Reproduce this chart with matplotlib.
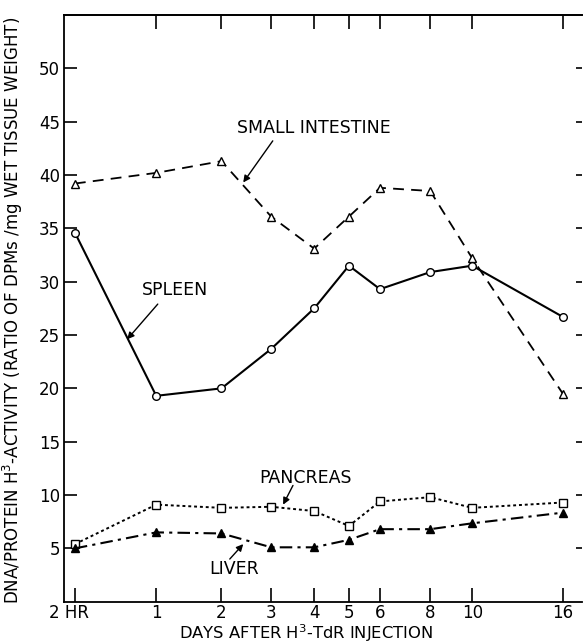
import numpy as np
import matplotlib
matplotlib.use('Agg')
import matplotlib.pyplot as plt
import matplotlib.transforms as mtransforms

# days after injection (2 HR = 1/12 day)
days = [1/12, 1, 2, 3, 4, 5, 6, 8, 10, 16]
day_labels = ['2 HR', '1', '2', '3', '4', '5', '6', '8', '10', '16']

small_intestine = [39.2, 40.2, 41.3, 36.1, 33.1, 36.1, 38.8, 38.5, 32.2, 19.5]
spleen = [34.6, 19.3, 20.0, 23.7, 27.5, 31.5, 29.3, 30.9, 31.5, 26.7]
pancreas = [5.4, 9.1, 8.8, 8.9, 8.5, 7.1, 9.4, 9.8, 8.8, 9.3]
liver = [5.0, 6.5, 6.4, 5.1, 5.1, 5.8, 6.8, 6.8, 7.35, 8.35]

# hand drawn day axis: where each tick sits along the axis (0..1)
tick_pos = [0.021, 0.178, 0.304, 0.400, 0.483, 0.550, 0.610, 0.707, 0.788, 0.963]

def day_to_x(d):
    return np.interp(np.log(d), np.log(days), tick_pos)

x = day_to_x(days)

plt.rcParams['font.family'] = 'DejaVu Sans'
fig = plt.figure(figsize=(5.83, 6.43), dpi=100)
ax = fig.add_axes([0.1098, 0.0642, 0.8885, 0.9125])

k = 'black'
ax.plot(x, small_intestine, color=k, lw=1.3, ls=(0, (6, 4)),
        marker='^', ms=6, mfc='white', mec=k, mew=1)
ax.plot(x, spleen, color=k, lw=1.5, ls='-',
        marker='o', ms=5.5, mfc='white', mec=k, mew=1)
ax.plot(x, pancreas, color=k, lw=1.4, ls=(0, (1.5, 1.5)),
        marker='s', ms=5.5, mfc='white', mec=k, mew=1)
ax.plot(x, liver, color=k, lw=1.5, ls=(0, (6, 2.5, 1.5, 2.5)),
        marker='^', ms=5.5, mfc=k, mec=k, mew=1)

ax.set_xlim(0, 1)
ax.set_ylim(0, 55)
ax.set_xticks(x)
ax.set_xticklabels(day_labels)
ax.set_yticks(range(5, 55, 5))

ax.tick_params(axis='x', direction='in', length=10, width=1.2, pad=2, labelsize=12)
ax.tick_params(axis='y', direction='in', length=9, width=1.2, pad=3, labelsize=12)
ax.tick_params(axis='y', which='major', right=True)
for t in ax.yaxis.get_majorticklines()[1::2]:
    t.set_markersize(4.5)
# the "2 HR" label sits a little left of its tick
lab0 = ax.get_xticklabels()[0]
lab0.set_transform(lab0.get_transform() +
                   mtransforms.ScaledTranslation(-6 / 100, 0, fig.dpi_scale_trans))

top = ax.secondary_xaxis('top')
top.set_xticks(x[1:])
top.tick_params(direction='in', length=10, width=1.2, labeltop=False)
top.spines['top'].set_linewidth(1.3)

ax.spines['right'].set_visible(False)
for s in ['left', 'bottom', 'top']:
    ax.spines[s].set_linewidth(1.3)

ax.set_xlabel('DAYS AFTER H$^3$-TdR INJECTION', fontsize=11.8, va='center')
ax.xaxis.set_label_coords(0.468, -0.054)
ax.set_ylabel('DNA/PROTEIN H$^3$-ACTIVITY (RATIO OF DPMs /mg WET TISSUE WEIGHT)',
              fontsize=12)
ax.yaxis.set_label_coords(-0.075, 0.497)

arrow = dict(arrowstyle='-|>', color=k, lw=1, mutation_scale=10, shrinkA=0, shrinkB=0)
labels = [
    ('SMALL INTESTINE', (0.483, 44.4), (0.403, 43.2), (0.346, 39.3)),
    ('SPLEEN', (0.214, 29.2), (0.181, 27.9), (0.122, 24.6)),
    ('PANCREAS', (0.467, 11.6), (0.442, 10.9), (0.423, 9.1)),
    ('LIVER', (0.328, 3.1), (0.320, 4.0), (0.346, 5.4)),
]
for name, txt, tail, head in labels:
    ax.text(txt[0], txt[1], name, fontsize=12.5, ha='center', va='center')
    ax.annotate('', xy=head, xytext=tail, arrowprops=arrow)

fig.savefig('out.png', dpi=100)
